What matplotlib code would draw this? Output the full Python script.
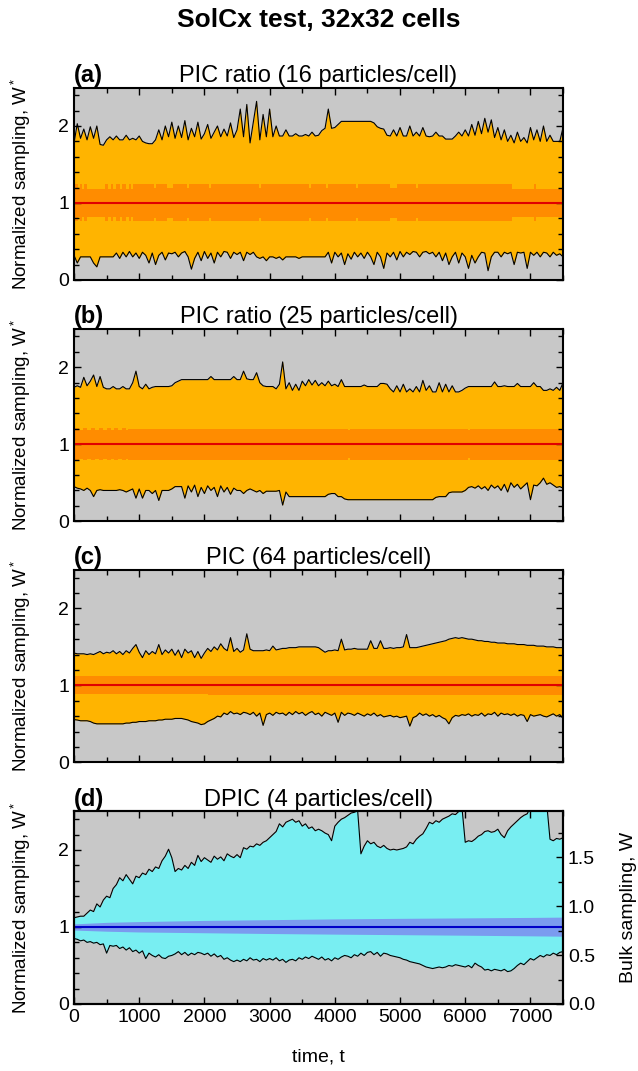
import numpy as np
import matplotlib.pyplot as plt
from matplotlib.ticker import MultipleLocator

plt.rcParams['font.family'] = ['Liberation Sans', 'DejaVu Sans']
plt.rcParams['mathtext.default'] = 'regular'

# sample times of the envelopes (one value every 50 steps)
t = np.arange(0, 7501, 50)

# (a) PIC ratio, 16 particles/cell -- max / min of W*
a_upper = [1.78, 2.03, 1.84, 1.96, 1.82, 1.99, 1.84, 2.00, 1.76, 1.75,
           1.82, 1.86, 1.82, 1.87, 1.82, 1.82, 1.88, 1.82, 1.84, 1.82,
           1.87, 1.80, 1.78, 1.77, 1.77, 1.82, 1.95, 1.82, 2.00, 1.86,
           2.05, 1.84, 2.00, 1.85, 2.07, 1.82, 1.97, 1.86, 2.05, 1.83,
           1.90, 2.02, 1.84, 1.92, 2.00, 1.86, 1.96, 1.87, 2.04, 1.85,
           1.95, 2.22, 1.86, 2.28, 1.78, 2.05, 2.32, 1.82, 2.15, 1.86,
           2.22, 1.86, 2.00, 1.87, 1.87, 1.95, 1.87, 1.87, 1.90, 1.87,
           1.87, 1.89, 1.87, 1.92, 1.87, 1.88, 1.94, 1.97, 2.22, 1.97,
           1.98, 2.02, 2.06, 2.06, 2.06, 2.06, 2.06, 2.06, 2.06, 2.06,
           2.06, 2.06, 2.04, 1.99, 1.97, 1.96, 1.88, 1.87, 1.95, 1.87,
           1.98, 1.87, 1.87, 2.00, 1.87, 1.92, 1.87, 1.98, 1.87, 1.86,
           1.87, 1.92, 1.87, 1.87, 1.83, 1.83, 1.83, 1.87, 1.92, 1.87,
           1.95, 1.87, 2.02, 1.88, 2.06, 1.90, 2.10, 1.92, 2.08, 1.85,
           1.98, 1.82, 1.95, 1.80, 1.88, 1.78, 1.92, 1.80, 1.85, 1.78,
           1.98, 1.82, 1.95, 1.80, 2.00, 1.80, 1.88, 1.80, 1.80, 1.80, 1.98]
a_lower = [0.32, 0.22, 0.30, 0.30, 0.30, 0.30, 0.22, 0.17, 0.30, 0.30,
           0.30, 0.30, 0.30, 0.35, 0.28, 0.36, 0.30, 0.37, 0.30, 0.35,
           0.28, 0.36, 0.32, 0.22, 0.35, 0.20, 0.32, 0.36, 0.26, 0.35,
           0.34, 0.36, 0.30, 0.35, 0.37, 0.30, 0.14, 0.28, 0.36, 0.25,
           0.37, 0.28, 0.35, 0.22, 0.36, 0.30, 0.37, 0.36, 0.28, 0.36,
           0.33, 0.36, 0.25, 0.36, 0.33, 0.36, 0.30, 0.28, 0.30, 0.25,
           0.30, 0.30, 0.28, 0.30, 0.26, 0.30, 0.30, 0.30, 0.30, 0.28,
           0.30, 0.30, 0.30, 0.30, 0.30, 0.30, 0.30, 0.30, 0.36, 0.22,
           0.36, 0.30, 0.35, 0.20, 0.34, 0.27, 0.36, 0.30, 0.35, 0.28,
           0.36, 0.30, 0.20, 0.36, 0.30, 0.15, 0.35, 0.30, 0.36, 0.26,
           0.37, 0.30, 0.36, 0.33, 0.37, 0.36, 0.30, 0.36, 0.37, 0.34,
           0.36, 0.30, 0.36, 0.25, 0.35, 0.20, 0.30, 0.36, 0.22, 0.35,
           0.30, 0.15, 0.32, 0.22, 0.30, 0.36, 0.35, 0.12, 0.30, 0.36,
           0.36, 0.30, 0.36, 0.34, 0.36, 0.20, 0.36, 0.35, 0.36, 0.15,
           0.36, 0.32, 0.36, 0.30, 0.36, 0.35, 0.30, 0.36, 0.32, 0.34, 0.30]

# (b) PIC ratio, 25 particles/cell
b_upper = [1.74, 1.76, 1.74, 1.87, 1.76, 1.82, 1.90, 1.75, 1.88, 1.74,
           1.72, 1.72, 1.75, 1.72, 1.72, 1.75, 1.72, 1.72, 1.80, 1.95,
           1.75, 1.72, 1.78, 1.72, 1.74, 1.75, 1.75, 1.75, 1.75, 1.75,
           1.76, 1.80, 1.82, 1.84, 1.84, 1.84, 1.84, 1.84, 1.84, 1.84,
           1.84, 1.84, 1.88, 1.84, 1.84, 1.84, 1.84, 1.84, 1.84, 1.88,
           1.84, 1.84, 1.95, 1.85, 1.84, 1.84, 1.93, 1.80, 1.76, 1.75,
           1.75, 1.75, 1.72, 1.78, 2.07, 1.72, 1.80, 1.70, 1.78, 1.70,
           1.82, 1.76, 1.84, 1.77, 1.83, 1.76, 1.80, 1.76, 1.82, 1.76,
           1.78, 1.75, 1.84, 1.75, 1.75, 1.75, 1.75, 1.75, 1.75, 1.77,
           1.75, 1.75, 1.75, 1.75, 1.79, 1.79, 1.78, 1.72, 1.68, 1.76,
           1.68, 1.78, 1.68, 1.72, 1.68, 1.75, 1.68, 1.83, 1.70, 1.76,
           1.68, 1.68, 1.80, 1.68, 1.78, 1.68, 1.76, 1.68, 1.68, 1.70,
           1.73, 1.75, 1.75, 1.75, 1.75, 1.75, 1.75, 1.75, 1.75, 1.81,
           1.75, 1.75, 1.76, 1.75, 1.75, 1.75, 1.79, 1.75, 1.75, 1.75,
           1.75, 1.80, 1.75, 1.75, 1.70, 1.70, 1.72, 1.70, 1.74, 1.70, 1.80]
b_lower = [0.45, 0.43, 0.42, 0.40, 0.43, 0.40, 0.32, 0.40, 0.41, 0.40,
           0.40, 0.40, 0.40, 0.40, 0.41, 0.40, 0.38, 0.40, 0.42, 0.30,
           0.42, 0.30, 0.40, 0.40, 0.36, 0.40, 0.27, 0.40, 0.40, 0.40,
           0.42, 0.45, 0.45, 0.45, 0.30, 0.46, 0.38, 0.47, 0.32, 0.44,
           0.36, 0.46, 0.40, 0.44, 0.32, 0.46, 0.38, 0.44, 0.35, 0.43,
           0.40, 0.40, 0.36, 0.40, 0.42, 0.40, 0.38, 0.40, 0.36, 0.39,
           0.39, 0.39, 0.39, 0.40, 0.21, 0.38, 0.32, 0.32, 0.32, 0.32,
           0.32, 0.32, 0.32, 0.32, 0.32, 0.32, 0.32, 0.32, 0.35, 0.36,
           0.36, 0.32, 0.32, 0.29, 0.28, 0.28, 0.28, 0.28, 0.28, 0.28,
           0.28, 0.28, 0.28, 0.28, 0.28, 0.28, 0.28, 0.28, 0.28, 0.28,
           0.28, 0.28, 0.28, 0.28, 0.28, 0.28, 0.28, 0.28, 0.28, 0.28,
           0.28, 0.31, 0.32, 0.32, 0.32, 0.37, 0.38, 0.38, 0.38, 0.38,
           0.40, 0.44, 0.45, 0.43, 0.46, 0.42, 0.45, 0.40, 0.47, 0.43,
           0.46, 0.40, 0.48, 0.38, 0.50, 0.44, 0.48, 0.42, 0.46, 0.50,
           0.28, 0.47, 0.46, 0.50, 0.56, 0.48, 0.50, 0.47, 0.44, 0.45, 0.43]

# (c) PIC, 64 particles/cell
c_upper = [1.42, 1.41, 1.41, 1.41, 1.40, 1.41, 1.40, 1.42, 1.44, 1.41,
           1.43, 1.42, 1.45, 1.41, 1.44, 1.40, 1.45, 1.42, 1.48, 1.53,
           1.43, 1.36, 1.45, 1.40, 1.44, 1.41, 1.53, 1.40, 1.46, 1.42,
           1.47, 1.39, 1.46, 1.36, 1.47, 1.42, 1.45, 1.36, 1.44, 1.35,
           1.42, 1.48, 1.44, 1.50, 1.46, 1.54, 1.48, 1.45, 1.62, 1.44,
           1.48, 1.43, 1.46, 1.67, 1.47, 1.45, 1.45, 1.45, 1.45, 1.46,
           1.45, 1.51, 1.46, 1.47, 1.48, 1.48, 1.49, 1.49, 1.49, 1.50,
           1.50, 1.50, 1.50, 1.50, 1.50, 1.49, 1.46, 1.43, 1.45, 1.45,
           1.46, 1.45, 1.60, 1.46, 1.47, 1.47, 1.48, 1.47, 1.47, 1.47,
           1.47, 1.58, 1.48, 1.48, 1.58, 1.48, 1.48, 1.49, 1.48, 1.49,
           1.49, 1.50, 1.66, 1.49, 1.49, 1.49, 1.50, 1.51, 1.52, 1.53,
           1.54, 1.55, 1.56, 1.57, 1.58, 1.60, 1.61, 1.62, 1.61, 1.62,
           1.61, 1.60, 1.60, 1.59, 1.58, 1.58, 1.57, 1.57, 1.56, 1.56,
           1.55, 1.55, 1.55, 1.54, 1.54, 1.54, 1.53, 1.53, 1.53, 1.52,
           1.52, 1.52, 1.51, 1.51, 1.51, 1.50, 1.50, 1.50, 1.49, 1.49, 1.49]
c_lower = [0.555, 0.55, 0.54, 0.54, 0.54, 0.53, 0.51, 0.50, 0.50, 0.50,
           0.50, 0.50, 0.50, 0.50, 0.50, 0.50, 0.51, 0.51, 0.52, 0.52,
           0.53, 0.53, 0.53, 0.54, 0.54, 0.54, 0.55, 0.55, 0.56, 0.56,
           0.56, 0.57, 0.57, 0.57, 0.56, 0.55, 0.53, 0.52, 0.51, 0.49,
           0.50, 0.53, 0.55, 0.57, 0.60, 0.59, 0.64, 0.62, 0.66, 0.63,
           0.64, 0.62, 0.65, 0.64, 0.62, 0.65, 0.60, 0.64, 0.48, 0.62,
           0.64, 0.61, 0.65, 0.63, 0.64, 0.61, 0.65, 0.62, 0.66, 0.63,
           0.65, 0.61, 0.64, 0.66, 0.62, 0.64, 0.60, 0.65, 0.63, 0.61,
           0.64, 0.52, 0.65, 0.61, 0.64, 0.63, 0.61, 0.64, 0.62, 0.60,
           0.63, 0.61, 0.64, 0.60, 0.62, 0.59, 0.60, 0.61, 0.59, 0.60,
           0.58, 0.59, 0.60, 0.47, 0.58, 0.60, 0.64, 0.61, 0.63, 0.60,
           0.62, 0.59, 0.61, 0.58, 0.56, 0.50, 0.58, 0.61, 0.60, 0.62,
           0.61, 0.63, 0.60, 0.62, 0.61, 0.64, 0.60, 0.63, 0.62, 0.65,
           0.60, 0.64, 0.62, 0.63, 0.61, 0.63, 0.60, 0.62, 0.61, 0.53,
           0.62, 0.60, 0.61, 0.62, 0.60, 0.59, 0.61, 0.63, 0.60, 0.62, 0.57]

# (d) DPIC, 4 particles/cell
d_upper = [1.12, 1.13, 1.14, 1.14, 1.18, 1.22, 1.20, 1.30, 1.26, 1.35,
           1.40, 1.38, 1.50, 1.55, 1.64, 1.60, 1.68, 1.62, 1.56, 1.66,
           1.64, 1.70, 1.68, 1.75, 1.72, 1.78, 1.76, 1.86, 1.92, 2.01,
           1.90, 1.72, 1.76, 1.74, 1.80, 1.76, 1.84, 1.80, 1.93, 1.85,
           1.90, 1.87, 1.84, 1.92, 1.88, 1.91, 1.86, 1.95, 1.92, 1.90,
           1.94, 1.90, 2.03, 2.01, 2.05, 2.04, 2.08, 2.06, 2.10, 2.12,
           2.16, 2.20, 2.24, 2.34, 2.30, 2.36, 2.38, 2.40, 2.36, 2.38,
           2.31, 2.34, 2.28, 2.30, 2.25, 2.27, 2.25, 2.22, 2.20, 2.12,
           2.31, 2.36, 2.40, 2.42, 2.45, 2.48, 2.49, 2.51, 1.95, 2.05,
           2.12, 2.08, 2.10, 2.05, 2.03, 2.06, 2.02, 2.00, 2.01, 2.00,
           2.01, 2.02, 2.04, 2.10, 2.08, 2.14, 2.18, 2.21, 2.28, 2.36,
           2.34, 2.38, 2.36, 2.40, 2.42, 2.44, 2.47, 2.46, 2.50, 2.55,
           2.10, 2.12, 2.11, 2.14, 2.18, 2.20, 2.24, 2.25, 2.23, 2.24,
           2.27, 2.20, 2.16, 2.25, 2.30, 2.34, 2.38, 2.42, 2.45, 2.47,
           2.55, 2.58, 2.60, 2.58, 2.60, 2.60, 2.14, 2.12, 2.15, 2.14, 2.16]
d_lower = [0.85, 0.84, 0.82, 0.83, 0.80, 0.81, 0.79, 0.80, 0.77, 0.78,
           0.66, 0.76, 0.75, 0.76, 0.72, 0.74, 0.70, 0.73, 0.68, 0.70,
           0.66, 0.69, 0.59, 0.66, 0.63, 0.61, 0.64, 0.60, 0.59, 0.62,
           0.63, 0.65, 0.68, 0.64, 0.67, 0.63, 0.66, 0.64, 0.67, 0.66,
           0.64, 0.66, 0.62, 0.65, 0.61, 0.63, 0.58, 0.60, 0.57, 0.55,
           0.57, 0.55, 0.58, 0.56, 0.60, 0.57, 0.58, 0.55, 0.59, 0.57,
           0.59, 0.57, 0.60, 0.56, 0.58, 0.54, 0.57, 0.58, 0.56, 0.60,
           0.58, 0.61, 0.59, 0.62, 0.60, 0.58, 0.61, 0.57, 0.59, 0.56,
           0.60, 0.58, 0.61, 0.63, 0.62, 0.60, 0.64, 0.62, 0.66, 0.63,
           0.67, 0.68, 0.64, 0.67, 0.62, 0.66, 0.65, 0.63, 0.62, 0.61,
           0.60, 0.58, 0.57, 0.55, 0.54, 0.53, 0.52, 0.50, 0.48, 0.47,
           0.46, 0.47, 0.48, 0.47, 0.48, 0.50, 0.49, 0.51, 0.50, 0.49,
           0.48, 0.50, 0.47, 0.53, 0.50, 0.48, 0.44, 0.45, 0.43, 0.45,
           0.44, 0.43, 0.45, 0.42, 0.43, 0.46, 0.50, 0.53, 0.51, 0.55,
           0.59, 0.57, 0.60, 0.63, 0.61, 0.64, 0.63, 0.66, 0.64, 0.67, 0.68]

# half width of the inner (darker) band around W* = 1, piecewise constant
band_a_t = [0, 60, 90, 120, 150, 200, 475, 520, 560, 600, 650, 700, 740, 790,
            840, 880, 906, 1230, 1260, 1430, 1520, 1740, 1770, 2070, 2100,
            2840, 2870, 3610, 3640, 3860, 3890, 4320, 4350, 4850, 4950, 5240,
            5270, 6714, 7060, 7090, 7500]
band_a_w = [0.24, 0.18, 0.24, 0.18, 0.24, 0.18, 0.24, 0.18, 0.24, 0.18, 0.24,
            0.18, 0.24, 0.18, 0.24, 0.18, 0.24, 0.20, 0.24, 0.20, 0.24, 0.20,
            0.24, 0.20, 0.24, 0.20, 0.24, 0.20, 0.24, 0.20, 0.24, 0.20, 0.24,
            0.20, 0.24, 0.20, 0.24, 0.18, 0.24, 0.18, 0.18]
band_b_t = [0, 80, 140, 200, 260, 320, 380, 440, 500, 560, 620, 680, 740, 800,
            830, 4200, 4230, 6040, 6070, 7500]
band_b_w = [0.21, 0.19, 0.21, 0.19, 0.21, 0.19, 0.21, 0.19, 0.21, 0.19, 0.21,
            0.19, 0.21, 0.19, 0.20, 0.18, 0.20, 0.18, 0.20, 0.20]
band_c_t = [0, 2000, 2050, 7500]
band_c_hi = [1.12, 1.12, 1.12, 1.12]
band_c_lo = [0.885, 0.885, 0.875, 0.875]
band_d_t = [0, 500, 1000, 2000, 3000, 4000, 5000, 6000, 7000, 7500]
band_d_hi = [1.04, 1.06, 1.07, 1.085, 1.095, 1.105, 1.112, 1.118, 1.124, 1.128]
band_d_lo = [0.96, 0.945, 0.935, 0.925, 0.915, 0.907, 0.90, 0.893, 0.885, 0.88]

mean_t = [0, 7500]
mean_w = [1.0, 1.0]

titles = ["PIC ratio (16 particles/cell)", "PIC ratio (25 particles/cell)",
          "PIC (64 particles/cell)", "DPIC (4 particles/cell)"]
letters = ["(a)", "(b)", "(c)", "(d)"]

gray = "#c8c8c8"
orange, dark_orange, red = "#ffb400", "#ff8c00", "#e00000"
cyan, blue_band, blue = "#78eef2", "#7b9bef", "#0000c8"

fig = plt.figure(figsize=(6.38, 10.71), dpi=100)
fig.text(0.5, 1 - 20 / 1071, "SolCx test, 32x32 cells", ha="center",
         va="center", fontsize=19, fontweight="bold")

bottoms = [0.7386, 0.5133, 0.2882, 0.0626]
uppers = [a_upper, b_upper, c_upper, d_upper]
lowers = [a_lower, b_lower, c_lower, d_lower]

for i in range(4):
    ax = fig.add_axes([0.116, bottoms[i], 0.7665, 0.1797])
    ax.set_facecolor(gray)
    fill = cyan if i == 3 else orange
    ax.fill_between(t, lowers[i], uppers[i], color=fill, lw=0)

    if i == 0:
        w = np.array(band_a_w)
        ax.fill_between(band_a_t, 1 - w, 1 + w, step="post", color=dark_orange, lw=0)
    elif i == 1:
        w = np.array(band_b_w)
        ax.fill_between(band_b_t, 1 - w, 1 + w, step="post", color=dark_orange, lw=0)
    elif i == 2:
        ax.fill_between(band_c_t, band_c_lo, band_c_hi, step="post", color=dark_orange, lw=0)
    else:
        ax.fill_between(band_d_t, band_d_lo, band_d_hi, color=blue_band, lw=0)

    ax.plot(mean_t, mean_w, color=blue if i == 3 else red, lw=1.5)
    ax.plot(t, uppers[i], color="black", lw=0.8)
    ax.plot(t, lowers[i], color="black", lw=0.8)

    ax.set_xlim(0, 7500)
    ax.set_ylim(0, 2.5)
    ax.set_yticks([0, 1, 2])
    ax.yaxis.set_minor_locator(MultipleLocator(0.2))
    ax.xaxis.set_major_locator(MultipleLocator(1000))
    ax.xaxis.set_minor_locator(MultipleLocator(500))
    ax.tick_params(which="both", direction="in", top=True, right=(i != 3),
                   labelsize=14, width=1)
    ax.tick_params(which="major", length=5)
    ax.tick_params(which="minor", length=3.5)
    for sp in ax.spines.values():
        sp.set_linewidth(1.5)

    ax.set_title(titles[i], fontsize=17, pad=4)
    ax.set_title(letters[i], loc="left", fontsize=17, fontweight="bold", pad=4)
    ax.set_ylabel("Normalized sampling, W$^*$", fontsize=13.5, va="center")
    ax.yaxis.set_label_coords(-0.108, 0.5)

    if i < 3:
        ax.tick_params(labelbottom=False)
    else:
        ax.set_xlabel("time, t", fontsize=14, va="center")
        ax.xaxis.set_label_coords(0.5, -0.274)
        ax2 = ax.twinx()
        ax2.set_ylim(0, 1.97)
        ax2.yaxis.set_major_locator(MultipleLocator(0.5))
        ax2.yaxis.set_minor_locator(MultipleLocator(0.25))
        ax2.yaxis.set_major_formatter("{x:.1f}")
        ax2.tick_params(which="both", direction="in", labelsize=14, width=1)
        ax2.tick_params(which="major", length=5)
        ax2.tick_params(which="minor", length=3.5)
        for sp in ax2.spines.values():
            sp.set_linewidth(1.5)
        ax2.set_ylabel("Bulk sampling, W", fontsize=14, va="center")
        ax2.yaxis.set_label_coords(1.133, 0.5)

fig.savefig("out.png", dpi=100)
